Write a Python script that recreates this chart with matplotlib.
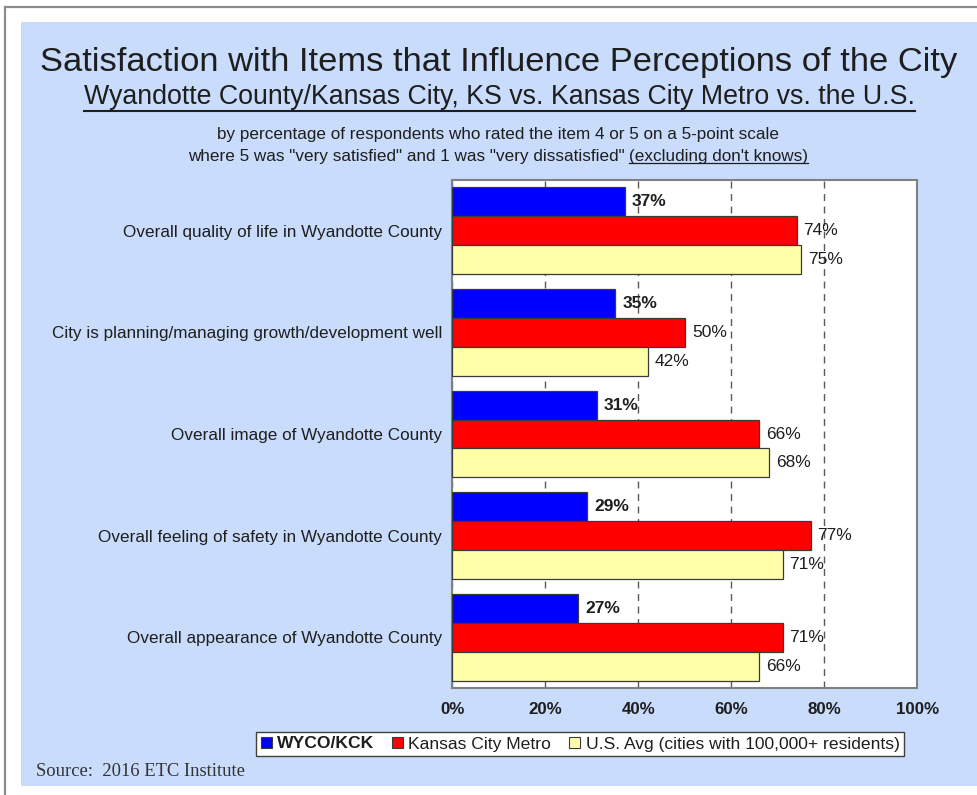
import matplotlib
matplotlib.use("Agg")
import matplotlib.pyplot as plt
from matplotlib.patches import Rectangle, Patch
from matplotlib.lines import Line2D

# ---------------- data ----------------
categories = [
    "Overall quality of life in Wyandotte County",
    "City is planning/managing growth/development well",
    "Overall image of Wyandotte County",
    "Overall feeling of safety in Wyandotte County",
    "Overall appearance of Wyandotte County",
]
wyco = [37, 35, 31, 29, 27]
kc_metro = [74, 50, 66, 77, 71]
us_avg = [75, 42, 68, 71, 66]
series_names = ["WYCO/KCK", "Kansas City Metro", "U.S. Avg (cities with 100,000+ residents)"]
x_ticks = [0, 20, 40, 60, 80, 100]
x_tick_labels = ["0%", "20%", "40%", "60%", "80%", "100%"]

title = "Satisfaction with Items that Influence Perceptions of the City"
subtitle = "Wyandotte County/Kansas City, KS vs. Kansas City Metro vs. the U.S."
note1 = "by percentage of respondents who rated the item 4 or 5 on a 5-point scale"
note2a = 'where 5 was "very satisfied" and 1 was "very dissatisfied"'
note2b = "(excluding don't knows)"
source = "Source:  2016 ETC Institute"

# ---------------- style ----------------
PANEL = "#c9dcfb"
COLORS = ["#0000ff", "#ff0000", "#ffffaa"]
TXT = "#1e1e1e"
FONT = "Liberation Sans"
plt.rcParams["font.family"] = [FONT, "DejaVu Sans"]

W, H = 978, 795
fig = plt.figure(figsize=(W / 100, H / 100), dpi=100)
fig.patch.set_facecolor("white")


def fx(x):
    return x / W


def fy(y):
    return 1 - y / H


def fit(t, target):
    r = fig.canvas.get_renderer()
    w = t.get_window_extent(r).width
    t.set_fontsize(t.get_fontsize() * target / w)


# outer frame & panel
fig.add_artist(Line2D([fx(5), fx(5)], [fy(7), fy(800)], color="#8c8c8c", lw=1.6))
fig.add_artist(Line2D([fx(5), fx(980)], [fy(7), fy(7)], color="#8c8c8c", lw=1.6))
fig.add_artist(Rectangle((fx(21), fy(786)), fx(977) - fx(21), fy(22) - fy(786),
                         transform=fig.transFigure, facecolor=PANEL, edgecolor="none", zorder=0))

# ---------------- axes ----------------
ax = fig.add_axes([fx(452.5), fy(688), fx(917.5) - fx(452.5), fy(180) - fy(688)])
ax.set_facecolor("white")
n = len(categories)
bh = 0.285
offs = [-bh, 0, bh]
for k, (vals, col) in enumerate(zip([wyco, kc_metro, us_avg], COLORS)):
    ys = [i + offs[k] for i in range(n)]
    ax.barh(ys, vals, height=bh, color=col, edgecolor="#3a3a3a", linewidth=0.9, zorder=3)
    for y, v in zip(ys, vals):
        ax.annotate(f"{v}%", (v, y), xytext=(5, 0), textcoords="offset points",
                    va="center", ha="left", fontsize=12.5, color=TXT,
                    fontweight="bold" if k == 0 else "normal", zorder=4)

ax.set_xlim(0, 100)
ax.set_ylim(n - 0.5, -0.5)
ax.set_xticks(x_ticks)
ax.set_xticklabels(x_tick_labels, fontsize=12.2, fontweight="bold", color=TXT)
ax.set_yticks(range(n))
ax.set_yticklabels(categories, fontsize=12.4, color=TXT)
ax.tick_params(axis="x", length=0, pad=10)
ax.tick_params(axis="y", length=0, pad=7.5)
ax.set_axisbelow(True)
ax.xaxis.grid(True, linestyle=(0, (5, 4)), color="#5a5a5a", lw=1.0)
for s in ax.spines.values():
    s.set_color("#808080")
    s.set_linewidth(1.5)

fig.canvas.draw()
# fit category label size to reference width
lab0 = ax.get_yticklabels()[0]
r = fig.canvas.get_renderer()
scale = 320 / lab0.get_window_extent(r).width
for lab in ax.get_yticklabels():
    lab.set_fontsize(lab.get_fontsize() * scale)

# ---------------- titles ----------------
t1 = fig.text(fx(498.5), fy(62), title, ha="center", va="center", fontsize=25, color=TXT)
fit(t1, 917)
t2 = fig.text(fx(500), fy(97), subtitle, ha="center", va="center", fontsize=18, color=TXT)
fit(t2, 833)
fig.canvas.draw()
bb = t2.get_window_extent(r)
fig.add_artist(Line2D([bb.x0 / W, bb.x1 / W], [fy(110.5), fy(110.5)], color=TXT, lw=1.5))

t3 = fig.text(fx(498.5), fy(135), note1, ha="center", va="center", fontsize=10, color=TXT)
fit(t3, 563)
# second line: two parts, second underlined
tmp = fig.text(0, 0, note2a + " " + note2b, fontsize=10)
fit(tmp, 620)
fs2 = tmp.get_fontsize()
tmp.remove()
t4a = fig.text(fx(188), fy(157), note2a, ha="left", va="center", fontsize=fs2, color=TXT)
fig.canvas.draw()
ba = t4a.get_window_extent(r)
sp = fig.text(0, 0, "a a", fontsize=fs2)
sa = fig.text(0, 0, "aa", fontsize=fs2)
spw = sp.get_window_extent(r).width - sa.get_window_extent(r).width
sp.remove()
sa.remove()
t4b = fig.text((ba.x1 + spw) / W, fy(157), note2b, ha="left", va="center", fontsize=fs2, color=TXT)
fig.canvas.draw()
bbb = t4b.get_window_extent(r)
fig.add_artist(Line2D([bbb.x0 / W, bbb.x1 / W], [fy(163), fy(163)], color=TXT, lw=0.9))

# ---------------- legend ----------------
handles = [Patch(facecolor=c, edgecolor="#3a3a3a", linewidth=0.8) for c in COLORS]
leg = fig.legend(handles, series_names, loc="center", bbox_to_anchor=(fx(580), fy(744)),
                 ncol=3, fontsize=12.6, frameon=True, fancybox=False, framealpha=1,
                 edgecolor="#404040", handlelength=0.65, handleheight=0.65,
                 handletextpad=0.3, columnspacing=1.0, borderpad=0.25, borderaxespad=0)
leg.get_frame().set_linewidth(1.0)
for t in leg.get_texts():
    t.set_color(TXT)
leg.get_texts()[0].set_fontweight("bold")

# ---------------- source ----------------
ts = fig.text(fx(36), fy(772), source, ha="left", va="center", fontsize=11,
              family=["Liberation Serif", "DejaVu Serif"], color="#333333")
fit(ts, 209)

fig.savefig("out.png", dpi=100, facecolor="white")
